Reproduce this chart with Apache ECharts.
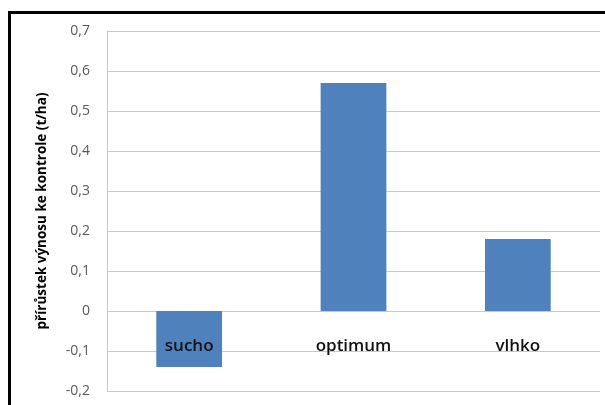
<!DOCTYPE html>
<html>
<head>
<meta charset="utf-8">
<script src="https://cdn.jsdelivr.net/npm/echarts@6/dist/echarts.min.js"></script>
<style>
html,body{margin:0;padding:0;background:#fff;}
#chart{width:605px;height:405px;}
</style>
</head>
<body>
<div id="chart"></div>
<script>
const categories = ['sucho', 'optimum', 'vlhko'];
const values = [-0.14, 0.57, 0.18];
const yTicks = { min: -0.2, max: 0.7, interval: 0.1 };
const yTitle = 'přírůstek výnosu ke kontrole (t/ha)';

const chart = echarts.init(document.getElementById('chart'), null, { renderer: 'canvas' });
chart.setOption({
  animation: false,
  backgroundColor: '#ffffff',
  graphic: [{
    type: 'rect',
    shape: { x: 9.5, y: 12.5, width: 700, height: 500 },
    style: { fill: 'none', stroke: '#000', lineWidth: 3 },
    silent: true
  }],
  grid: { left: 107, right: 5, top: 31, bottom: 14, containLabel: false, outerBoundsMode: 'none' },
  xAxis: {
    type: 'category',
    data: categories,
    offset: -80,
    z: 5,
    axisLine: { show: false, onZero: false },
    axisTick: { show: false },
    axisLabel: {
      margin: 27,
      fontFamily: 'Open Sans',
      fontWeight: 600,
      fontSize: 17,
      color: '#111'
    },
    splitLine: { show: false }
  },
  yAxis: {
    type: 'value',
    min: yTicks.min,
    max: yTicks.max,
    interval: yTicks.interval,
    name: yTitle,
    nameLocation: 'middle',
    nameGap: 58,
    nameTextStyle: { fontFamily: 'Open Sans', fontWeight: 'bold', fontSize: 13.5, color: '#000' },
    axisLine: { show: true, lineStyle: { color: '#c8c8c8', width: 1 } },
    axisTick: { show: false },
    axisLabel: {
      margin: 17,
      fontFamily: 'Open Sans',
      fontSize: 14,
      color: '#595959',
      formatter: v => (Math.round(v * 10) / 10).toString().replace('.', ',')
    },
    splitLine: { show: true, lineStyle: { color: '#c8c8c8', width: 1 } }
  },
  series: [{
    type: 'bar',
    data: values,
    barWidth: '40%',
    itemStyle: { color: '#4f81bd' }
  }]
});
</script>
</body>
</html>
